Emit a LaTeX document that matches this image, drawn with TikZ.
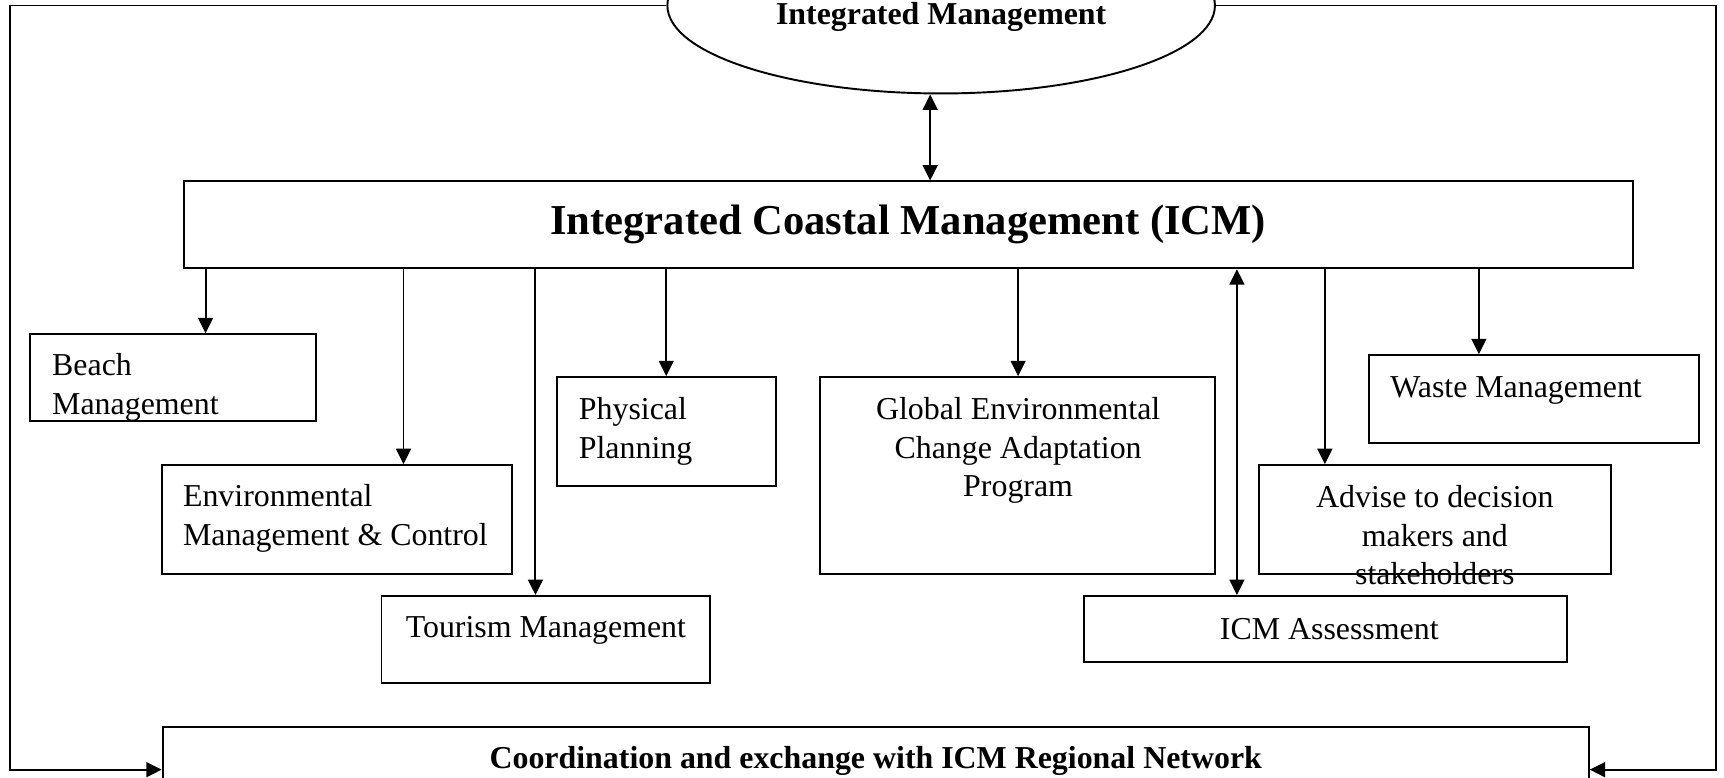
\documentclass[tikz,border=0pt]{standalone}
\usepackage{fontspec}
\setmainfont{Liberation Serif}
\usetikzlibrary{positioning,arrows.meta,shapes.geometric}

\tikzset{
  box/.style={draw, line width=0.7pt, inner sep=0pt},
  txt/.style={inner sep=0pt, font=\fontsize{11.6}{14}\selectfont},
  arr/.style={line width=0.7pt, -{Triangle[length=5.6pt,width=5.4pt]}},
  darr/.style={line width=0.7pt, {Triangle[length=5.6pt,width=5.4pt]}-{Triangle[length=5.6pt,width=5.4pt]}},
}

\begin{document}
\begin{tikzpicture}[x=0.4pt, y=-0.4pt]
    \useasboundingbox (0,0) rectangle (1568,707);

    % top and centre
    \node[box, ellipse, minimum width=199.2pt, minimum height=64pt] (im) at (856,5) {};
    \node[txt, font=\fontsize{11.6}{14}\selectfont\bfseries] (im-t) at (856,15) {Integrated Management};
    \node[box, minimum width=527.2pt, minimum height=31.6pt] (icm) at (826,204.5) {};
    \node[txt, font=\fontsize{15.5}{18}\selectfont\bfseries] (icm-t) at (826,204) {Integrated Coastal Management (ICM)};

    % the programmes
    \node[box, minimum width=104pt, minimum height=31.6pt] (beach) at (157,343.5) {};
    \node[txt, anchor=west, align=left] (beach-t) at (47,352.5) {Beach\\Management};
    \node[box, minimum width=127.6pt, minimum height=39.6pt] (envm) at (306.5,472.5) {};
    \node[txt, anchor=west, align=left] (envm-t) at (166,471.5) {Environmental\\Management \& Control};
    \node[box, minimum width=119.6pt, minimum height=31.6pt] (tour) at (496.5,581.5) {};
    \node[txt] (tour-t) at (496.5,573.5) {Tourism Management};
    \node[box, minimum width=79.6pt, minimum height=39.6pt] (phys) at (606.5,392.5) {};
    \node[txt, anchor=west, align=left] (phys-t) at (526,392.5) {Physical\\Planning};
    \node[box, minimum width=143.6pt, minimum height=71.6pt] (gecap) at (925.5,432.5) {};
    \node[txt, align=center] (gecap-t) at (926,410) {Global Environmental\\Change Adaptation\\Program};
    \node[box, minimum width=175.6pt, minimum height=24pt] (assess) at (1205.5,572) {};
    \node[txt] (assess-t) at (1209,572.5) {ICM Assessment};
    \node[box, minimum width=128pt, minimum height=39.6pt] (advise) at (1305,472.5) {};
    \node[txt, align=center] (advise-t) at (1305,487) {Advise to decision\\makers and\\stakeholders};
    \node[box, minimum width=120pt, minimum height=32pt] (waste) at (1395,363) {};
    \node[txt, anchor=west] (waste-t) at (1264,355) {Waste Management};

    % bottom
    \node[box, minimum width=518.8pt, minimum height=31.2pt] (net) at (796.5,700) {};
    \node[txt, font=\fontsize{11.6}{14}\selectfont\bfseries] (net-t) at (796.5,692) {Coordination and exchange with ICM Regional Network};

    % links
    \draw[darr] (im.south -| 846,0) -- (icm.north -| 846,0);
    \draw[arr] (icm.south -| 187,0) -- (beach.north -| 187,0);
    \draw[arr] (icm.south -| 367,0) -- (envm.north -| 367,0);
    \draw[arr] (icm.south -| 487,0) -- (tour.north -| 487,0);
    \draw[arr] (icm.south -| 606,0) -- (phys.north -| 606,0);
    \draw[arr] (icm.south -| 926,0) -- (gecap.north -| 926,0);
    \draw[darr] (icm.south -| 1125,0) -- (assess.north -| 1125,0);
    \draw[arr] (icm.south -| 1205,0) -- (advise.north -| 1205,0);
    \draw[arr] (icm.south -| 1345,0) -- (waste.north -| 1345,0);

    % outer loop
    \coordinate (tl) at (9,5);
    \coordinate (tr) at (1561,5);
    \draw[arr] (im.west) -- (tl) |- (net.west);
    \draw[arr] (im.east) -- (tr) |- (net.east);
\end{tikzpicture}
\end{document}
